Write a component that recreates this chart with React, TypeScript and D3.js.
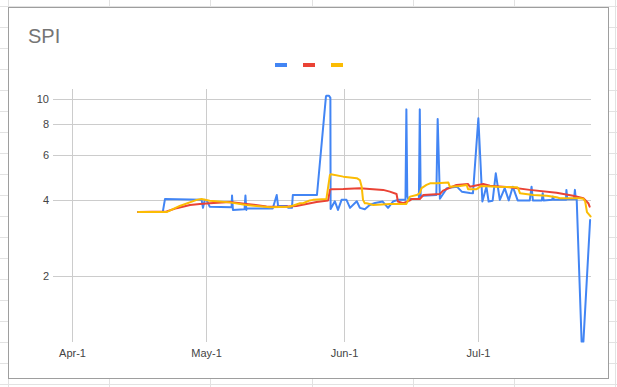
import React from 'react';
import * as d3 from 'd3';

// day offsets are counted from Apr-1
const blueDays = [14.9, 20.4, 20.9, 29.1, 29.4, 29.8, 30.3, 30.9, 35.8, 35.9, 36.1, 38.7, 38.9, 39.1, 39.2, 45.0, 45.9, 46.2, 48.2, 48.5, 49.3, 49.5, 54.9, 56.9, 57.0, 57.6, 57.9, 57.95, 58.9, 59.6, 60.4, 61.5, 62.3, 63.8, 64.5, 65.6, 66.7, 67.9, 69.6, 70.8, 71.9, 73.0, 74.7, 74.9, 75.1, 75.3, 77.7, 77.9, 78.1, 78.6, 81.6, 81.9, 82.4, 83.96, 86.2, 87.3, 89.1, 89.8, 91.0, 91.9, 92.8, 93.3, 94.2, 94.9, 95.8, 96.9, 97.8, 98.7, 99.8, 102.5, 102.9, 103.2, 105.2, 105.4, 105.6, 107.5, 107.7, 107.9, 110.6, 110.7, 110.9, 112.4, 112.6, 112.8, 113.0, 114.1, 114.5, 116.0];
const blueValues = [3.58, 3.58, 4.03, 4.0, 3.72, 4.0, 3.97, 3.76, 3.74, 4.16, 3.65, 3.675, 4.16, 3.65, 3.7, 3.7, 4.18, 3.785, 3.785, 3.72, 3.72, 4.18, 4.18, 10.2, 10.3, 10.3, 10.1, 3.68, 3.95, 3.65, 4.0, 4.0, 3.72, 3.95, 3.72, 3.675, 3.82, 3.89, 3.94, 3.72, 3.94, 4.0, 4.0, 9.1, 4.15, 4.03, 4.03, 9.1, 4.12, 4.15, 4.18, 8.34, 4.04, 4.45, 4.51, 4.31, 4.26, 4.25, 8.39, 3.94, 4.51, 3.94, 3.97, 5.09, 4.0, 4.45, 3.98, 4.51, 3.98, 3.98, 4.51, 3.98, 3.98, 4.25, 3.98, 4.0, 4.12, 4.0, 4.0, 4.38, 4.02, 4.02, 4.38, 4.02, 4.02, 1.104, 1.104, 3.33];

const redDays = [14.9, 21.25, 23.5, 26.5, 28.7, 30.9, 35.4, 39.1, 43.6, 47.3, 50.3, 54.8, 57.4, 57.8, 58.2, 60.8, 64.5, 66.7, 69.7, 71.2, 72.7, 73.0, 74.2, 75.7, 76.1, 77.9, 78.7, 82.4, 83.1, 86.1, 88.7, 89.1, 91.0, 92.1, 93.6, 98.0, 102.5, 108.5, 112.2, 114.5, 115.6, 115.9];
const redValues = [3.58, 3.6, 3.71, 3.82, 3.855, 3.88, 3.92, 3.855, 3.77, 3.76, 3.785, 3.92, 3.98, 4.38, 4.41, 4.42, 4.45, 4.42, 4.38, 4.31, 4.22, 3.94, 3.88, 3.98, 4.03, 4.03, 4.18, 4.22, 4.35, 4.58, 4.62, 4.51, 4.58, 4.62, 4.55, 4.49, 4.38, 4.27, 4.15, 4.06, 3.88, 3.76];

const yellowDays = [14.9, 21.25, 24.2, 28.0, 29.1, 30.9, 35.4, 39.1, 44.4, 48.8, 51.1, 51.8, 53.3, 54.0, 57.0, 57.8, 58.0, 60.8, 63.8, 64.5, 64.9, 65.2, 65.6, 66.0, 67.5, 71.2, 74.9, 75.7, 77.2, 77.9, 78.3, 79.4, 80.2, 81.7, 84.3, 84.6, 86.9, 88.4, 88.7, 90.6, 91.7, 95.1, 99.6, 99.9, 100.3, 103.3, 106.3, 108.5, 109.2, 113.7, 114.5, 114.9, 115.3, 116.1];
const yellowValues = [3.58, 3.58, 3.785, 4.0, 4.03, 3.97, 3.91, 3.82, 3.74, 3.76, 3.88, 3.88, 3.98, 4.0, 4.03, 5.015, 5.05, 4.94, 4.87, 4.79, 4.51, 4.0, 3.88, 3.88, 3.82, 3.855, 3.855, 4.12, 4.18, 4.25, 4.45, 4.58, 4.65, 4.65, 4.68, 4.51, 4.54, 4.58, 4.41, 4.41, 4.54, 4.51, 4.49, 4.45, 4.25, 4.18, 4.15, 4.1, 4.06, 4.06, 4.04, 3.94, 3.58, 3.44];

const yTicks = [2, 4, 6, 8, 10];
const xTickLabels = ['Apr-1', 'May-1', 'Jun-1', 'Jul-1'];
const xTickDays = [0, 30, 61, 91];
const seriesColors = ['#4285f4', '#ea4335', '#fbbc04'];

const DAY = 864e5;
const apr1 = Date.UTC(2021, 3, 1);
const toDate = (d: number) => new Date(apr1 + d * DAY);

export default function App() {
  const width = 617, height = 387;
  const x = d3.scaleUtc().domain([toDate(-4.15), toDate(116.2)]).range([53, 591]);
  const y = d3.scaleLog().domain([1.1, 10.95]).range([342, 89]);

  const line = d3.line<[number, number]>()
    .x(d => x(toDate(d[0])))
    .y(d => y(d[1]));

  const series = [
    d3.zip(blueDays, blueValues),
    d3.zip(redDays, redValues),
    d3.zip(yellowDays, yellowValues),
  ] as [number, number][][];

  // spreadsheet cells behind the chart
  const rows = d3.range(6, 390, 21);
  const cols = d3.range(8, 620, 101.2);

  return (
    <svg width={width} height={height} style={{ position: 'absolute', left: 0, top: 0 }}
      fontFamily="'Liberation Sans', Arial, sans-serif">
      <rect width={width} height={height} fill="#fff" />
      {rows.map(r => <line key={'r' + r} x1={0} x2={width} y1={r + 0.5} y2={r + 0.5} stroke="#e2e2e2" />)}
      {cols.map(c => <line key={'c' + c} x1={Math.round(c) + 0.5} x2={Math.round(c) + 0.5} y1={0} y2={height} stroke="#e2e2e2" />)}

      <rect x={8.5} y={7.5} width={600} height={371} fill="#fff" stroke="#9e9e9e" />

      <text x={28} y={43} fontSize={20} fill="#757575">SPI</text>

      {seriesColors.map((c, i) => (
        <rect key={c} x={275 + i * 28} y={63} width={12} height={4} fill={c} />
      ))}

      {yTicks.map(t => (
        <g key={t}>
          <line x1={53} x2={591} y1={Math.round(y(t)) + 0.5} y2={Math.round(y(t)) + 0.5} stroke="#cccccc" />
          <text x={49} y={y(t) + 4} fontSize={11} textAnchor="end" fill="#444">{t}</text>
        </g>
      ))}
      {xTickDays.map((d, i) => {
        const xp = Math.round(x(toDate(d))) + 0.5;
        return (
          <g key={d}>
            <line x1={xp} x2={xp} y1={89} y2={342} stroke="#cccccc" />
            <text x={xp} y={357} fontSize={11} textAnchor="middle" fill="#444">{xTickLabels[i]}</text>
          </g>
        );
      })}

      {series.map((s, i) => (
        <path key={i} d={line(s) || ''} fill="none" stroke={seriesColors[i]}
          strokeWidth={2} strokeLinejoin="round" strokeLinecap="round" />
      ))}
    </svg>
  );
}
